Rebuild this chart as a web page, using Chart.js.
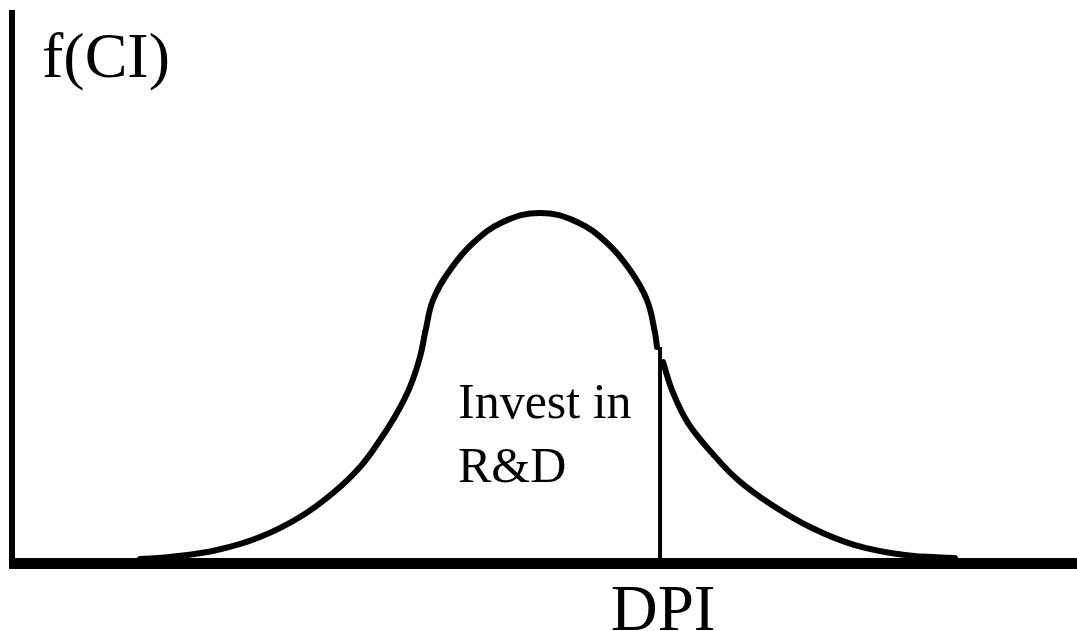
<!DOCTYPE html>
<html>
<head>
<meta charset="utf-8">
<script src="https://cdn.jsdelivr.net/npm/chart.js@4"></script>
<style>
  html, body { margin: 0; padding: 0; background: #fff; }
  #chart { display: block; }
</style>
</head>
<body>
<canvas id="chart" width="1077" height="631"></canvas>
<script>
// curve (x: 0-100, y: 0-100)
const leftX = [12.02, 14.84, 19.25, 23.29, 27.04, 30.14, 32.68, 34.55, 36.15, 37.37, 38.31, 38.78];
const leftY = [0.72, 1.08, 2.35, 4.70, 8.32, 12.66, 17.36, 22.24, 27.12, 31.83, 37.25, 41.59];
const topX = [38.78, 39.53, 41.13, 43.29, 46.10, 49.58, 53.05, 55.87, 58.03, 59.62, 60.38, 60.56];
const topY = [41.59, 47.56, 52.98, 57.87, 61.66, 63.29, 61.66, 57.87, 52.98, 47.56, 41.59, 39.06];
const rightX = [61.13, 61.97, 63.47, 65.73, 68.17, 71.36, 75.12, 79.15, 83.85, 88.54];
const rightY = [36.35, 31.28, 25.32, 19.89, 15.01, 10.49, 6.33, 3.25, 1.45, 0.90];
const dpiX = 60.85;
const dpiTop = 39.06;

const yLabel = 'f(CI)';
const xLabel = 'DPI';
const noteLines = ['Invest in', 'R&D'];

const SERIF = '"Liberation Serif", "Times New Roman", serif';

function toPoints(xs, ys) {
    return xs.map((x, i) => ({ x: x, y: ys[i] }));
}

function lineSet(xs, ys, width) {
    return {
        data: toPoints(xs, ys),
        borderColor: '#000',
        borderWidth: width,
        borderCapStyle: 'round',
        borderJoinStyle: 'round',
        pointRadius: 0,
        fill: false,
        tension: 0.4
    };
}

const axesAndText = {
    id: 'axesAndText',
    beforeDatasetsDraw(chart) {
        const ctx = chart.ctx;
        const a = chart.chartArea;
        ctx.save();
        ctx.fillStyle = '#000';
        // y axis
        ctx.fillRect(a.left - 3, a.top, 6, a.bottom - a.top + 6);
        // x axis
        ctx.fillRect(a.left - 3, a.bottom - 5, chart.width - a.left + 3, 11);
        ctx.restore();
    },
    afterDatasetsDraw(chart) {
        const ctx = chart.ctx;
        const a = chart.chartArea;
        const xs = chart.scales.x;
        ctx.save();
        ctx.fillStyle = '#000';
        ctx.textBaseline = 'alphabetic';

        ctx.font = '64px ' + SERIF;
        ctx.textAlign = 'left';
        ctx.fillText(yLabel, a.left + 30, 77);

        ctx.font = '65px ' + SERIF;
        ctx.textAlign = 'center';
        ctx.fillText(xLabel, xs.getPixelForValue(dpiX) + 3, 630);

        ctx.font = '50px ' + SERIF;
        ctx.textAlign = 'left';
        ctx.fillText(noteLines[0], 458, 418);
        ctx.fillText(noteLines[1], 458, 482);
        ctx.restore();
    }
};

new Chart(document.getElementById('chart').getContext('2d'), {
    type: 'line',
    data: {
        datasets: [
            lineSet(leftX, leftY, 6),
            lineSet(topX, topY, 6),
            lineSet(rightX, rightY, 6),
            Object.assign(lineSet([dpiX, dpiX], [0, dpiTop], 4), { borderCapStyle: 'butt' })
        ]
    },
    options: {
        responsive: false,
        animation: false,
        layout: { padding: { left: 12, top: 10, right: 0, bottom: 68 } },
        plugins: {
            legend: { display: false },
            tooltip: { enabled: false }
        },
        scales: {
            x: { type: 'linear', min: 0, max: 100, display: false },
            y: { type: 'linear', min: 0, max: 100, display: false }
        }
    },
    plugins: [axesAndText]
});
</script>
</body>
</html>
